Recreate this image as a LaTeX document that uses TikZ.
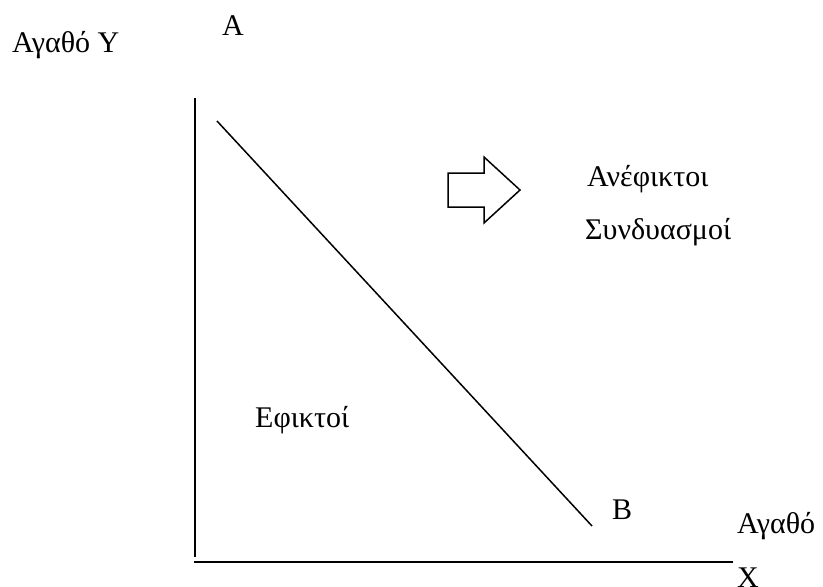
\documentclass[tikz,border=0pt]{standalone}
\usepackage{fontspec}
\setmainfont{Liberation Serif}
\begin{document}
\begin{tikzpicture}[x=1pt,y=-1pt,
  lbl/.style={inner sep=0pt,anchor=base west,font=\fontsize{30}{35}\selectfont},
  axis/.style={line width=2pt},
  ln/.style={line width=1.5pt}]
\useasboundingbox (0,0) rectangle (823,587);
\coordinate (ytop) at (195,98);
\coordinate (ybot) at (195,557);
\coordinate (xl) at (194,562);
\coordinate (xr) at (733,562);
\coordinate (a) at (217,121);
\coordinate (b) at (592,526);
\draw[axis] (ytop) -- (ybot);
\draw[axis] (xl) -- (xr);
\draw[ln] (a) -- (b);
\draw[ln,line join=miter] (448,173) coordinate (arr) -- (484,173) -- (484,157) -- (520,190) -- (484,223) -- (484,207) -- (448,207) -- cycle;
\node[lbl] (gy) at (12,52) {Αγαθό Y};
\node[lbl] (la) at (222,35) {A};
\node[lbl] (an) at (587,186) {Ανέφικτοι};
\node[lbl] (sy) at (585,239) {Συνδυασμοί};
\node[lbl] (ef) at (255,427) {Εφικτοί};
\node[lbl] (lb) at (612,519) {B};
\node[lbl] (gx) at (737,533) {Αγαθό};
\node[lbl] (lx) at (737,587) {X};
\end{tikzpicture}
\end{document}
